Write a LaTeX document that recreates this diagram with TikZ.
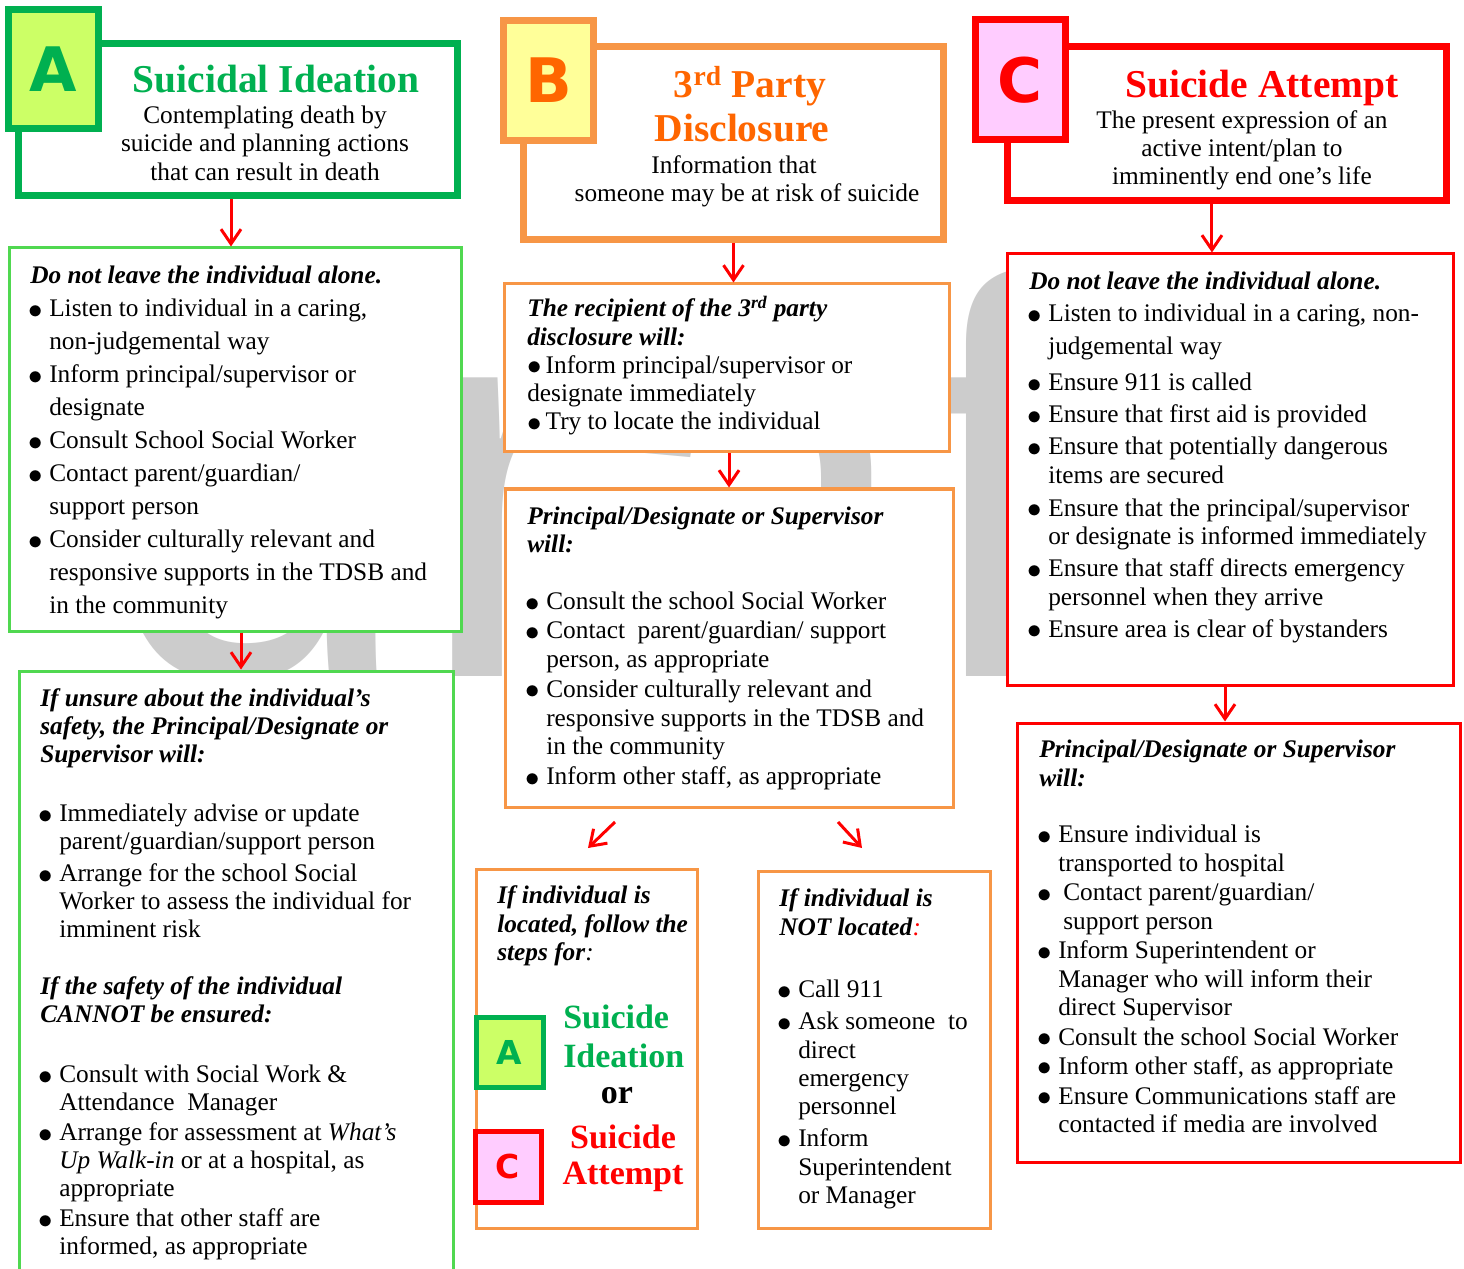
\documentclass[tikz,border=0pt]{standalone}
\usepackage{fontspec}
\setmainfont{Liberation Serif}
\newfontfamily\tabfont{DejaVu Sans}
\newfontfamily\wmfont{Liberation Sans}
\usetikzlibrary{arrows.meta, fit, positioning}

\definecolor{hdrgreen}{RGB}{0,176,80}
\definecolor{boxgreen}{RGB}{80,216,80}
\definecolor{tabgreen}{RGB}{204,255,102}
\definecolor{boxorange}{RGB}{247,150,70}
\definecolor{txtorange}{RGB}{255,102,0}
\definecolor{tabyellow}{RGB}{255,255,153}
\definecolor{linkred}{RGB}{255,0,0}
\definecolor{tabpink}{RGB}{255,204,255}
\definecolor{wmgray}{RGB}{204,204,204}

\newcommand{\fl}{\rule{0pt}{15.6pt}}
\newcommand{\dotb}{\raisebox{-1.1pt}{\scalebox{1.25}{\ensuremath{\bullet}}}}
\newcommand{\bl}{\makebox[14.25pt][l]{\hspace*{-1.2pt}\dotb}}
\newcommand{\ind}{\hspace*{14.25pt}}
\newcommand{\bi}[1]{\textbf{\textit{#1}}}

\begin{document}
\begin{tikzpicture}[x=0.75pt,y=0.75pt,yscale=-1,xscale=1,
  hdrbox/.style={draw=#1, line width=5.25pt, fill=white, inner sep=0pt},
  tabbox/.style 2 args={draw=#1, fill=#2, line width=5.25pt, inner sep=0pt},
  bodybox/.style={draw=#1, line width=2.25pt, fill=white, inner sep=0pt},
  link/.style={draw=linkred, line width=2.25pt, -{Straight Barb[length=11pt,width=15pt]}},
  bodytext/.style={anchor=north west, inner sep=0pt, align=left},
  subtext/.style={anchor=north, inner sep=0pt, align=center, font=\fontsize{19pt}{21.4pt}\selectfont},
  titletext/.style={anchor=base, inner sep=0pt, font=\fontsize{29.6pt}{36pt}\selectfont\bfseries},
  minititle/.style={inner sep=0pt, font=\fontsize{25.5pt}{30pt}\selectfont\bfseries},
  tabletter/.style={inner sep=0pt, font=\tabfont\bfseries\fontsize{46pt}{46pt}\selectfont},
  minitab/.style={inner sep=0pt, font=\tabfont\bfseries\fontsize{24.7pt}{24.7pt}\selectfont}]
\useasboundingbox (0,0) rectangle (1464,1269);
\clip (0,0) rectangle (1464,1269);
\fill[white] (0,0) rectangle (1464,1269);

% Watermark
\node[anchor=base west, inner sep=0pt, text=wmgray, font=\wmfont\fontsize{424pt}{424pt}\selectfont] (draft) at (99,676) {draft};

%Shape: Rectangle -- header boxes
\node[hdrbox=hdrgreen, fit={(18.5,43.5) (457.5,195.5)}] (hdrA) {};
\node[hdrbox=boxorange, fit={(523.5,46.5) (943.5,239.5)}] (hdrB) {};
\node[hdrbox=linkred, fit={(1007,47) (1446,201)}] (hdrC) {};
%Shape: Rectangle -- letter tabs
\node[tabbox={hdrgreen}{tabgreen}, fit={(8,10) (98,129)}] (tabA) {};
\node[tabbox={boxorange}{tabyellow}, fit={(503.5,20.5) (593.5,140.5)}] (tabB) {};
\node[tabbox={linkred}{tabpink}, fit={(975,20) (1065,140)}] (tabC) {};
\node[tabletter, text=hdrgreen] (letA) at (tabA.center) {A};
\node[tabletter, text=txtorange] (letB) at (tabB.center) {B};
\node[tabletter, text=linkred] (letC) at (tabC.center) {C};

%Shape: Rectangle -- body boxes
\node[bodybox=boxgreen, fit={(9,248) (461,631)}] (boxA1) {};
\node[bodybox=boxgreen, fit={(19,671) (453,1300)}] (boxA2) {};
\node[bodybox=boxorange, fit={(504,284) (949,452)}] (boxB1) {};
\node[bodybox=boxorange, fit={(505,489) (953,807)}] (boxB2) {};
\node[bodybox=boxorange, fit={(476,869) (697,1228)}] (boxB3) {};
\node[bodybox=boxorange, fit={(758,871) (990,1228)}] (boxB4) {};
\node[bodybox=linkred, fit={(1007,254) (1453,685)}] (boxC1) {};
\node[bodybox=linkred, fit={(1017,723) (1460,1162)}] (boxC2) {};

% Text Node -- header titles
\node[titletext, text=hdrgreen] (ttlA) at (276,93) {Suicidal Ideation};
\node[titletext, text=txtorange] (ttlB1) at (750,98) {3\textsuperscript{rd} Party};
\node[titletext, text=txtorange] (ttlB2) at (742,142) {Disclosure};
\node[titletext, text=linkred] (ttlC) at (1262,98) {Suicide Attempt};
% Text Node -- header subtitles
\node[subtext] (subA) at (265,102.2) {\fl Contemplating death by\\ suicide and planning actions\\ that can result in death};
\node[subtext] (subB) at (747,152.2) {\fl Information that\hspace*{19.5pt}\\ someone may be at risk of suicide};
\node[subtext, font=\fontsize{19pt}{21pt}\selectfont] (subC) at (1242,107.2) {\fl The present expression of an\\ active intent/plan to\\ imminently end one’s life};

% Text Node -- A column
\node[bodytext, font=\fontsize{19pt}{24.75pt}\selectfont] (txtA1) at (30,262.7) {\fl\bi{Do not leave the individual alone.}\\
\bl Listen to individual in a caring,\\
\ind non-judgemental way\\
\bl Inform principal/supervisor or\\
\ind designate\\
\bl Consult School Social Worker\\
\bl Contact parent/guardian/\\
\ind support person\\
\bl Consider culturally relevant and\\
\ind responsive supports in the TDSB and\\
\ind in the community};
\node[bodytext, font=\fontsize{19pt}{21pt}\selectfont] (txtA2) at (40,685.7) {\fl\bi{If unsure about the individual’s}\\
\bi{safety, the Principal/Designate or}\\
\bi{Supervisor will:}\\[23.25pt]
\bl Immediately advise or update\\
\ind parent/guardian/support person\\[3pt]
\bl Arrange for the school Social\\
\ind Worker to assess the individual for\\
\ind imminent risk\\[21.75pt]
\bi{If the safety of the individual}\\
\bi{CANNOT be ensured:}\\[24pt]
\bl Consult with Social Work \&\\
\ind Attendance\ \ Manager\\[1.5pt]
\bl Arrange for assessment at \textit{What’s}\\
\ind\textit{Up Walk-in} or at a hospital, as\\
\ind appropriate\\[1.5pt]
\bl Ensure that other staff are\\
\ind informed, as appropriate};

% Text Node -- B column
\node[bodytext, font=\fontsize{19pt}{21.2pt}\selectfont] (txtB1) at (527,295.7) {\fl\bi{The recipient of the 3\textsuperscript{rd} party}\\
\bi{disclosure will:}\\
\dotb\hspace{3pt}Inform principal/supervisor or\\
designate immediately\\
\dotb\hspace{3pt}Try to locate the individual};
\node[bodytext, font=\fontsize{19pt}{21.4pt}\selectfont] (txtB2) at (527,503.2) {\fl\bi{Principal/Designate or Supervisor}\\
\bi{will:}\\[21.4pt]
\bl Consult the school Social Worker\\[0.4pt]
\bl Contact\ \ parent/guardian/ support\\
\ind person, as appropriate\\[1.1pt]
\bl Consider culturally relevant and\\
\ind responsive supports in the TDSB and\\
\ind in the community\\[1.1pt]
\bl Inform other staff, as appropriate};
\node[bodytext, font=\fontsize{19pt}{21.4pt}\selectfont] (txtB3) at (497,882.7) {\fl\bi{If individual is}\\
\bi{located, follow the}\\
\bi{steps for}\textit{:}};
\node[tabbox={hdrgreen}{tabgreen}, line width=3.75pt, fit={(476,1017) (543,1087)}] (miniA) {};
\node[tabbox={linkred}{tabpink}, line width=3.75pt, fit={(475,1131) (541,1202)}] (miniC) {};
\node[minitab, text=hdrgreen] (miniAlet) at (miniA.center) {A};
\node[minitab, text=linkred] (miniClet) at (miniC.center) {C};
\node[minititle, anchor=base west, text=hdrgreen] (lblSI1) at (563,1028) {Suicide};
\node[minititle, anchor=base west, text=hdrgreen] (lblSI2) at (563,1067) {Ideation};
\node[minititle, anchor=base] (lblOr) at (617,1103) {or};
\node[minititle, anchor=base, text=linkred] (lblSA1) at (623,1148) {Suicide};
\node[minititle, anchor=base, text=linkred] (lblSA2) at (623,1184) {Attempt};
\node[bodytext, font=\fontsize{19pt}{21.2pt}\selectfont] (txtB4) at (779,885.7) {\fl\bi{If individual is}\\
\bi{NOT located}\textcolor{linkred}{\textit{:}}\\[26pt]
\bl Call 911\\[2.8pt]
\bl Ask someone\ \ to\\
\ind direct\\
\ind emergency\\
\ind personnel\\[2.8pt]
\bl Inform\\
\ind Superintendent\\
\ind or Manager};

% Text Node -- C column
\node[bodytext, font=\fontsize{19pt}{21.4pt}\selectfont] (txtC1) at (1029,268.7) {\fl\bi{Do not leave the individual alone.}\\[2.6pt]
\bl Listen to individual in a caring, non-\\[3.4pt]
\ind judgemental way\\[5.6pt]
\bl Ensure 911 is called\\[2.6pt]
\bl Ensure that first aid is provided\\[2.6pt]
\bl Ensure that potentially dangerous\\
\ind items are secured\\[3.4pt]
\bl Ensure that the principal/supervisor\\
\ind or designate is informed immediately\\[2.6pt]
\bl Ensure that staff directs emergency\\
\ind personnel when they arrive\\[2.6pt]
\bl Ensure area is clear of bystanders};
\node[bodytext, font=\fontsize{19pt}{21.2pt}\selectfont] (txtC2) at (1039,736.7) {\fl\bi{Principal/Designate or Supervisor}\\
\bi{will:}\\[21.4pt]
\bl Ensure individual is\\
\ind transported to hospital\\[1.1pt]
\bl\hspace*{3.75pt}Contact parent/guardian/\\
\ind\hspace*{3.75pt}support person\\[1.1pt]
\bl Inform Superintendent or\\
\ind Manager who will inform their\\
\ind direct Supervisor\\[1.1pt]
\bl Consult the school Social Worker\\[0.8pt]
\bl Inform other staff, as appropriate\\[1.1pt]
\bl Ensure Communications staff are\\
\ind contacted if media are involved};

%Straight Lines -- red arrows
\draw[link] ([xshift=-5.25pt]hdrA.south) -- ([xshift=-5.25pt]hdrA.south |- boxA1.north);
\draw[link] ([xshift=4.5pt]boxA1.south) -- ([xshift=4.5pt]boxA1.south |- boxA2.north);
\draw[link] (hdrB.south) -- (hdrB.south |- boxB1.north);
\draw[link] ([xshift=1.9pt]boxB1.south) -- ([xshift=1.9pt]boxB1.south |- boxB2.north);
\coordinate (splitL) at (615,822);
\coordinate (splitLend) at (588,848);
\coordinate (splitR) at (838,822);
\coordinate (splitRend) at (862,848);
\draw[link] (splitL) -- (splitLend);
\draw[link] (splitR) -- (splitRend);
\draw[link] ([xshift=-10.9pt]hdrC.south) -- ([xshift=-10.9pt]hdrC.south |- boxC1.north);
\draw[link] ([xshift=-3.75pt]boxC1.south) -- ([xshift=-3.75pt]boxC1.south |- boxC2.north);

\end{tikzpicture}
\end{document}
